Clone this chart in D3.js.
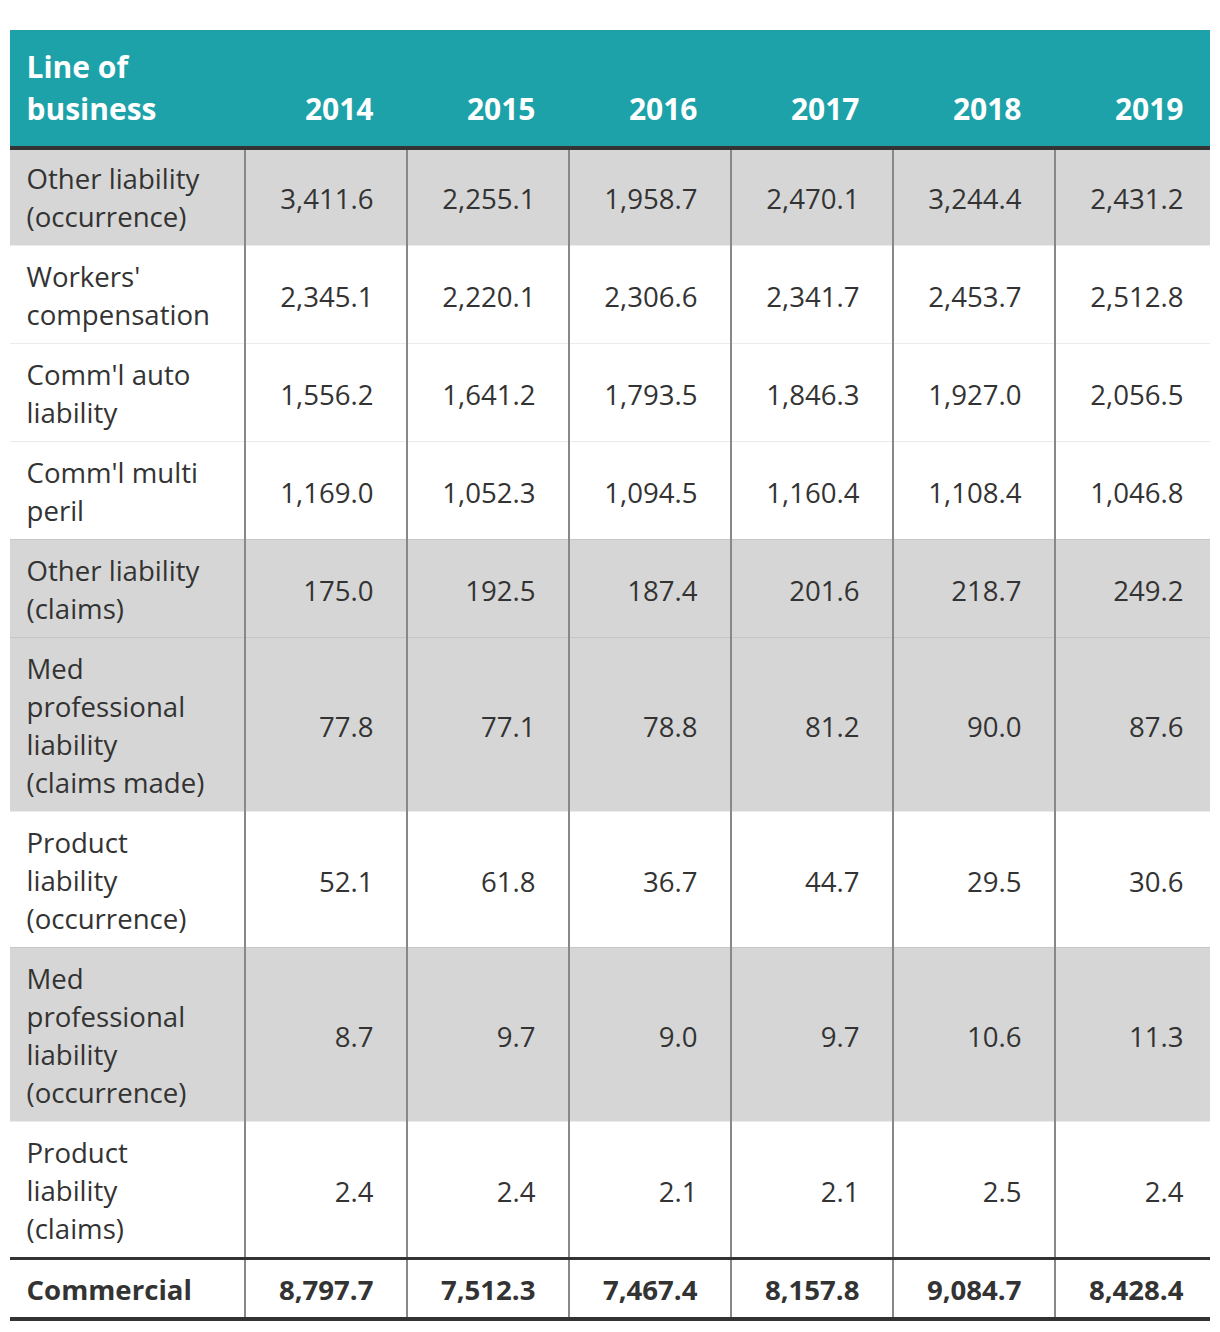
<!DOCTYPE html>
<html>
<head>
<meta charset="utf-8">
<script src="https://cdn.jsdelivr.net/npm/d3@7"></script>
<style>
  html, body { margin: 0; padding: 0; background: #fff; }
  svg { display: block; }
  text { font-family: "Open Sans", sans-serif; }
</style>
</head>
<body>
<svg id="chart" width="1220" height="1332"></svg>
<script>
// ---- data ----
const years = ["2014", "2015", "2016", "2017", "2018", "2019"];
const categories = [
  "Other liability (occurrence)",
  "Workers' compensation",
  "Comm'l auto liability",
  "Comm'l multi peril",
  "Other liability (claims)",
  "Med professional liability (claims made)",
  "Product liability (occurrence)",
  "Med professional liability (occurrence)",
  "Product liability (claims)"
];
const categoryLines = [
  ["Other liability", "(occurrence)"],
  ["Workers'", "compensation"],
  ["Comm'l auto", "liability"],
  ["Comm'l multi", "peril"],
  ["Other liability", "(claims)"],
  ["Med", "professional", "liability", "(claims made)"],
  ["Product", "liability", "(occurrence)"],
  ["Med", "professional", "liability", "(occurrence)"],
  ["Product", "liability", "(claims)"]
];
const shadedRows = [true, false, false, false, true, true, false, true, false];
const v2014 = [3411.6, 2345.1, 1556.2, 1169.0, 175.0, 77.8, 52.1, 8.7, 2.4];
const v2015 = [2255.1, 2220.1, 1641.2, 1052.3, 192.5, 77.1, 61.8, 9.7, 2.4];
const v2016 = [1958.7, 2306.6, 1793.5, 1094.5, 187.4, 78.8, 36.7, 9.0, 2.1];
const v2017 = [2470.1, 2341.7, 1846.3, 1160.4, 201.6, 81.2, 44.7, 9.7, 2.1];
const v2018 = [3244.4, 2453.7, 1927.0, 1108.4, 218.7, 90.0, 29.5, 10.6, 2.5];
const v2019 = [2431.2, 2512.8, 2056.5, 1046.8, 249.2, 87.6, 30.6, 11.3, 2.4];
const totalLabel = "Commercial";
const totals = [8797.7, 7512.3, 7467.4, 8157.8, 9084.7, 8428.4];
const headerLabel = ["Line of", "business"];

const seriesByYear = { "2014": v2014, "2015": v2015, "2016": v2016, "2017": v2017, "2018": v2018, "2019": v2019 };

// ---- layout ----
const svg = d3.select("#chart");
const left = 10, right = 1210;
const headTop = 30, headBottom = 148;
const lineH = 38, rowPad = 22;
const bodySize = 27.6;
const fmt = d3.format(",.1f");
const teal = "#1ca2a8";
const textColor = "#333333";

const x = d3.scaleBand().domain(years).range([245, 245 + 162 * years.length]).padding(0);
const textRight = d => x(d) + x.bandwidth() - 33.5;

// row positions
const heights = categoryLines.map(l => l.length * lineH + rowPad);
const tops = [headBottom];
heights.forEach((h, i) => tops.push(tops[i] + h));
const yRow = d3.scaleOrdinal().domain(categories).range(tops.slice(0, categories.length));
const hRow = d3.scaleOrdinal().domain(categories).range(heights);
const totalTop = tops[categories.length];
const totalH = 62;

const defs = svg.append("defs");
defs.append("clipPath").attr("id", "clip").append("rect")
  .attr("x", left).attr("y", 0).attr("width", right - left).attr("height", 1332);

const g = svg.append("g").attr("clip-path", "url(#clip)");

// header
g.append("rect").attr("x", left).attr("y", headTop).attr("width", right - left).attr("height", headBottom - headTop).attr("fill", teal);
g.append("text").attr("fill", "#fff").attr("font-weight", 700).attr("font-size", 30)
  .selectAll("tspan").data(headerLabel).join("tspan")
  .attr("x", 26.5).attr("y", (d, i) => 120 - (headerLabel.length - 1 - i) * 42).text(d => d);
g.selectAll("text.year").data(years).join("text").attr("class", "year")
  .attr("x", d => textRight(d)).attr("y", 120).attr("text-anchor", "end")
  .attr("fill", "#fff").attr("font-weight", 700).attr("font-size", 30).text(d => d);

// body rows
const rows = g.selectAll("g.row").data(categories).join("g").attr("class", "row")
  .attr("transform", d => `translate(0,${yRow(d)})`);
rows.append("rect").attr("x", left).attr("y", 0).attr("width", right - left)
  .attr("height", d => hRow(d)).attr("fill", (d, i) => shadedRows[i] ? "#d6d6d6" : "#ffffff");
// row separators (bottom of each row)
rows.filter((d, i) => i < categories.length - 1).append("rect")
  .attr("x", left).attr("y", d => hRow(d) - 1).attr("width", right - left).attr("height", 2)
  .attr("fill", (d, i) => shadedRows[i + 1] ? "#c6c6c6" : "#ebebeb");
// labels
rows.append("text").attr("fill", textColor).attr("font-size", bodySize)
  .each(function (d, i) {
    const lines = categoryLines[i];
    const h = hRow(d);
    const top0 = h / 2 - lines.length * lineH / 2;
    d3.select(this).selectAll("tspan").data(lines).join("tspan")
      .attr("x", 26.5).attr("y", (l, j) => top0 + j * lineH + lineH / 2 + 10.5).text(l => l);
  });
// values
rows.each(function (d, i) {
  const h = hRow(d);
  d3.select(this).selectAll("text.val").data(years).join("text").attr("class", "val")
    .attr("x", yr => textRight(yr)).attr("y", h / 2 + 11.5).attr("text-anchor", "end")
    .attr("fill", textColor).attr("font-size", bodySize)
    .text(yr => fmt(seriesByYear[yr][i]));
});

// total row
g.append("rect").attr("x", left).attr("y", totalTop).attr("width", right - left).attr("height", totalH).attr("fill", "#fff");
g.append("text").attr("x", 26.5).attr("y", totalTop + totalH / 2 + 11)
  .attr("fill", textColor).attr("font-size", bodySize).attr("font-weight", 700).text(totalLabel);
g.selectAll("text.tot").data(years).join("text").attr("class", "tot")
  .attr("x", d => textRight(d)).attr("y", totalTop + totalH / 2 + 11).attr("text-anchor", "end")
  .attr("fill", textColor).attr("font-size", bodySize).attr("font-weight", 700)
  .text((d, i) => fmt(totals[i]));

// vertical column lines
g.selectAll("rect.vline").data(years).join("rect").attr("class", "vline")
  .attr("x", d => x(d) - 1).attr("y", headBottom).attr("width", 2)
  .attr("height", totalTop + totalH - headBottom).attr("fill", "#888888");

// thick rules
g.append("rect").attr("x", left).attr("y", headBottom - 2).attr("width", right - left).attr("height", 4).attr("fill", "#333");
g.append("rect").attr("x", left).attr("y", totalTop - 1).attr("width", right - left).attr("height", 3).attr("fill", "#333");
g.append("rect").attr("x", left).attr("y", totalTop + totalH - 3).attr("width", right - left).attr("height", 4).attr("fill", "#333");
</script>
</body>
</html>
